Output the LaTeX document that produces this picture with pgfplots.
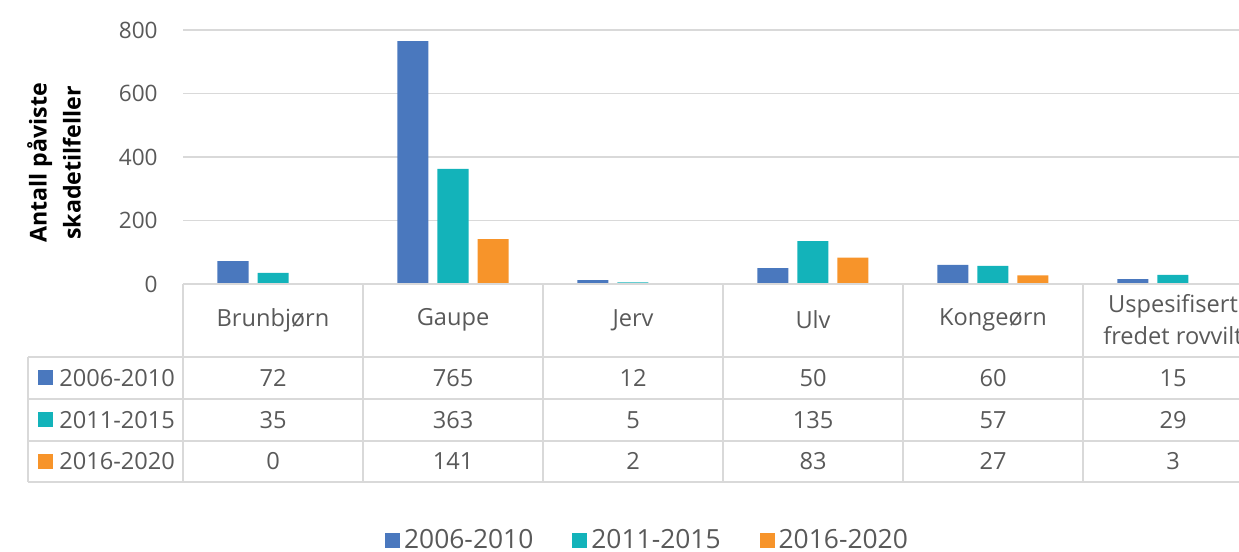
\documentclass[border=0pt]{standalone}
\usepackage{pgfplots}
\pgfplotsset{compat=1.18}
\usepackage{fontspec}
\setmainfont{Open Sans}
\definecolor{cA}{HTML}{4A78BE}
\definecolor{cB}{HTML}{13B3BA}
\definecolor{cC}{HTML}{F7942A}
\definecolor{txt}{HTML}{595959}
\definecolor{grd}{HTML}{D9D9D9}
\begin{document}
\begin{tikzpicture}
\useasboundingbox (0,0) rectangle (619.5pt,-276pt);
\begin{axis}[
  at={(91.5pt,-142pt)}, anchor=south west,
  scale only axis, width=540pt, height=127pt,
  xmin=-0.5, xmax=5.5, ymin=0, ymax=800,
  ytick={0,200,400,600,800}, xtick=\empty,
  axis line style={draw=none},
  major tick length=0pt,
  ymajorgrids, grid style={grd, line width=0.75pt},
  yticklabel style={font=\fontsize{11.3}{13}\selectfont, text=txt, inner sep=0pt, xshift=-12.5pt},
  /pgf/number format/assume math mode=true,
  legend columns=3,
  legend image code/.code={\fill[#1] (0pt,-3.75pt) rectangle (7.5pt,3.75pt);},
  legend style={at={(0.431,-1.008)}, anchor=center, draw=none, fill=none,
    font=\fontsize{13.2}{15}\selectfont, text=txt,
    /tikz/every even column/.append style={column sep=17.5pt}},
]
\addplot[ybar, bar width=15.5pt, bar shift=-20pt, fill=cA, draw=none] coordinates {(0,72) (1,765) (2,12) (3,50) (4,60) (5,15)};
\addplot[ybar, bar width=15.5pt, bar shift=0pt, fill=cB, draw=none] coordinates {(0,35) (1,363) (2,5) (3,135) (4,57) (5,29)};
\addplot[ybar, bar width=15.5pt, bar shift=20pt, fill=cC, draw=none] coordinates {(0,0) (1,141) (2,2) (3,83) (4,27) (5,3)};
\legend{2006-2010,2011-2015,2016-2020}
\end{axis}
\begin{scope}[x=0.5pt, y=-0.5pt]
  \draw[grd, line width=0.75pt] (183,284) -- (1300,284);
  \foreach \yy in {357,399,441,482} \draw[grd, line width=0.75pt] (28,\yy) -- (1300,\yy);
  \draw[grd, line width=0.75pt] (28,357) -- (28,482);
  \foreach \k in {0,...,6} \draw[grd, line width=0.75pt] (183+180*\k,284) -- (183+180*\k,482);
  \begin{scope}[every node/.style={text=txt, font=\fontsize{11.8}{16}\selectfont, inner sep=0pt}]
    \node at (273,320) {Brunbjørn};
    \node at (453,320) {Gaupe};
    \node at (633,320) {Jerv};
    \node at (813,320) {Ulv};
    \node at (993,320) {Kongeørn};
    \node[align=center] at (1173,320) {Uspesifisert\\fredet rovvilt};
    \foreach \v [count=\i from 0] in {72,765,12,50,60,15} \node at (273+180*\i,378) {\v};
    \foreach \v [count=\i from 0] in {35,363,5,135,57,29} \node at (273+180*\i,420) {\v};
    \foreach \v [count=\i from 0] in {0,141,2,83,27,3} \node at (273+180*\i,461) {\v};
    \fill[cA] (38,370) rectangle (53,385);
    \fill[cB] (38,412) rectangle (53,427);
    \fill[cC] (38,454) rectangle (53,469);
    \node[anchor=west] at (59,378) {2006-2010};
    \node[anchor=west] at (59,420) {2011-2015};
    \node[anchor=west] at (59,461) {2016-2020};
  \end{scope}
  \node[rotate=90, align=center, inner sep=0pt, font=\bfseries\fontsize{11.6}{17}\selectfont, text=black] at (54,163) {Antall påviste\\skadetilfeller};
\end{scope}
\end{tikzpicture}
\end{document}
